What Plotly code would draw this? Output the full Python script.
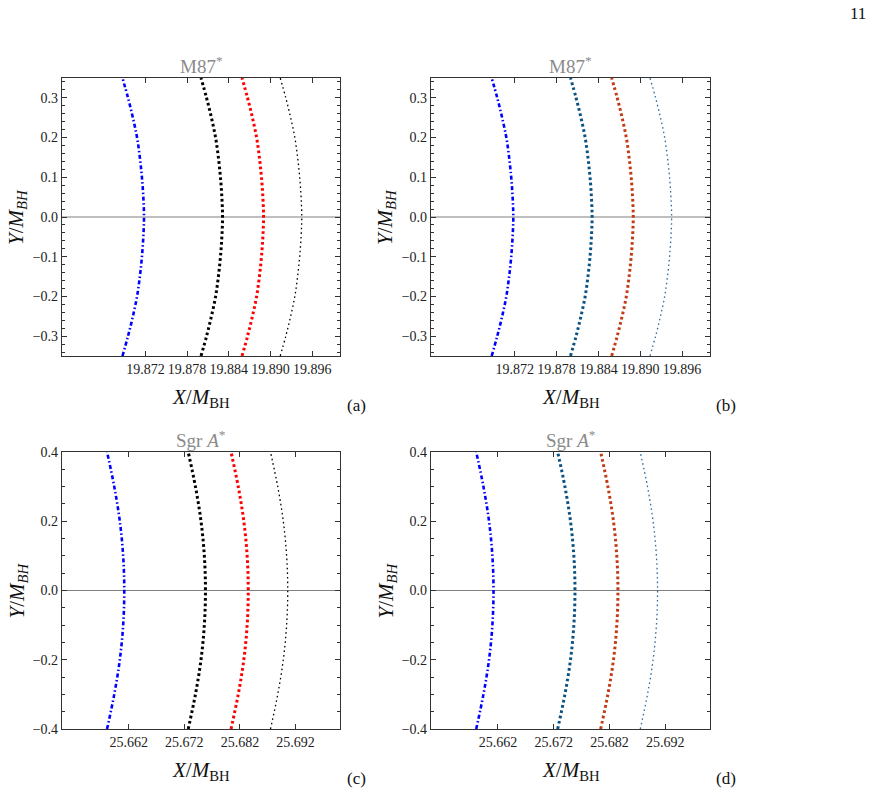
import plotly.graph_objects as go

# ---------------- data ----------------
Y_M87 = [-0.35, -0.3, -0.25, -0.2, -0.15, -0.1, -0.05, 0.0, 0.05, 0.1, 0.15, 0.2, 0.25, 0.3, 0.35]
M87_BLUE = [19.8687, 19.8695, 19.8702, 19.8708, 19.8712, 19.8715, 19.8717, 19.8718,
            19.8717, 19.8715, 19.8712, 19.8708, 19.8702, 19.8695, 19.8687]
M87_THICK = [19.8800, 19.8808, 19.8815, 19.8821, 19.8825, 19.8828, 19.8830, 19.8831,
             19.8830, 19.8828, 19.8825, 19.8821, 19.8815, 19.8808, 19.8800]
M87_RED = [19.8859, 19.8867, 19.8874, 19.8880, 19.8884, 19.8887, 19.8889, 19.8890,
           19.8889, 19.8887, 19.8884, 19.8880, 19.8874, 19.8867, 19.8859]
M87_THIN = [19.8914, 19.8922, 19.8929, 19.8935, 19.8939, 19.8942, 19.8944, 19.8945,
            19.8944, 19.8942, 19.8939, 19.8935, 19.8929, 19.8922, 19.8914]

Y_SGR = [-0.4, -0.3, -0.2, -0.1, 0.0, 0.1, 0.2, 0.3, 0.4]
SGR_BLUE = [25.6581, 25.6594, 25.6604, 25.6610, 25.6612, 25.6610, 25.6604, 25.6594, 25.6581]
SGR_THICK = [25.6727, 25.6740, 25.6750, 25.6756, 25.6758, 25.6756, 25.6750, 25.6740, 25.6727]
SGR_RED = [25.6804, 25.6817, 25.6827, 25.6833, 25.6835, 25.6833, 25.6827, 25.6817, 25.6804]
SGR_THIN = [25.6875, 25.6888, 25.6898, 25.6904, 25.6906, 25.6904, 25.6898, 25.6888, 25.6875]

M87_XTICKS = [19.872, 19.878, 19.884, 19.890, 19.896]
M87_XTICKTEXT = ["19.872", "19.878", "19.884", "19.890", "19.896"]
M87_YTICKS = [-0.3, -0.2, -0.1, 0.0, 0.1, 0.2, 0.3]
M87_YTICKTEXT = ["\u22120.3", "\u22120.2", "\u22120.1", "0.0", "0.1", "0.2", "0.3"]
SGR_XTICKS = [25.662, 25.672, 25.682, 25.692]
SGR_XTICKTEXT = ["25.662", "25.672", "25.682", "25.692"]
SGR_YTICKS = [-0.4, -0.2, 0.0, 0.2, 0.4]
SGR_YTICKTEXT = ["\u22120.4", "\u22120.2", "0.0", "0.2", "0.4"]

M87_XRANGE = [19.860, 19.900]
M87_YRANGE = [-0.35, 0.35]
SGR_XRANGE = [25.650, 25.700]
SGR_YRANGE = [-0.4, 0.4]

PANEL_LABELS = ["(a)", "(b)", "(c)", "(d)"]
TITLES = ["M87<sup>*</sup>", "M87<sup>*</sup>", "Sgr <i>A</i><sup>*</sup>", "Sgr <i>A</i><sup>*</sup>"]

# ---------------- styles ----------------
W, H = 880, 792
FONT = "Liberation Serif"

STYLE_LEFT = [
    dict(color="#0000ff", width=2.6, dash="4px,2.5px,1.5px,2.5px"),
    dict(color="#000000", width=3.0, dash="2.7px,2.7px"),
    dict(color="#ff0000", width=3.0, dash="2.7px,2.7px"),
    dict(color="#000000", width=1.3, dash="1.6px,3px"),
]
STYLE_RIGHT = [
    dict(color="#0000ff", width=2.6, dash="4px,2.5px,1.5px,2.5px"),
    dict(color="#0b5283", width=3.0, dash="2.7px,2.7px"),
    dict(color="#c23b15", width=3.0, dash="2.7px,2.7px"),
    dict(color="#2e6da4", width=1.3, dash="1.6px,3px"),
]

# pixel boxes of the four frames: (left, right, top, bottom)
BOXES = [(62, 340, 78, 356), (431, 710, 78, 356), (62, 340, 452, 729), (431, 710, 452, 729)]

fig = go.Figure()

panels = [
    (Y_M87, [M87_BLUE, M87_THICK, M87_RED, M87_THIN], STYLE_LEFT, M87_XRANGE, M87_YRANGE,
     M87_XTICKS, M87_XTICKTEXT, M87_YTICKS, M87_YTICKTEXT, 0.02),
    (Y_M87, [M87_BLUE, M87_THICK, M87_RED, M87_THIN], STYLE_RIGHT, M87_XRANGE, M87_YRANGE,
     M87_XTICKS, M87_XTICKTEXT, M87_YTICKS, M87_YTICKTEXT, 0.02),
    (Y_SGR, [SGR_BLUE, SGR_THICK, SGR_RED, SGR_THIN], STYLE_LEFT, SGR_XRANGE, SGR_YRANGE,
     SGR_XTICKS, SGR_XTICKTEXT, SGR_YTICKS, SGR_YTICKTEXT, 0.05),
    (Y_SGR, [SGR_BLUE, SGR_THICK, SGR_RED, SGR_THIN], STYLE_RIGHT, SGR_XRANGE, SGR_YRANGE,
     SGR_XTICKS, SGR_XTICKTEXT, SGR_YTICKS, SGR_YTICKTEXT, 0.05),
]

annotations = []
for i, (ys, curves, styles, xr, yr, xt, xtt, yt, ytt, yminor) in enumerate(panels):
    n = i + 1
    xa = "x" if n == 1 else f"x{n}"
    ya = "y" if n == 1 else f"y{n}"
    # zero line
    fig.add_trace(go.Scatter(x=xr, y=[0, 0], mode="lines", xaxis=xa, yaxis=ya,
                             line=dict(color="#808080", width=1.2), showlegend=False,
                             hoverinfo="skip"))
    for xs, st in zip(curves, styles):
        fig.add_trace(go.Scatter(x=xs, y=ys, mode="lines", xaxis=xa, yaxis=ya,
                                 line=dict(shape="spline", smoothing=1.0, **st),
                                 showlegend=False))
    l, r, t, b = BOXES[i]
    xkey = "xaxis" if n == 1 else f"xaxis{n}"
    ykey = "yaxis" if n == 1 else f"yaxis{n}"
    fig.update_layout(**{
        xkey: dict(domain=[l / W, r / W], range=xr, anchor=ya, tickvals=xt, ticktext=xtt,
                   ticks="inside", ticklen=5, tickcolor="#333", mirror="ticks",
                   showline=True, linecolor="#333", linewidth=1.3, showgrid=False,
                   zeroline=False, tickfont=dict(family=FONT, size=14, color="#222"),
                   tickangle=0, automargin=False, fixedrange=True),
        ykey: dict(domain=[1 - b / H, 1 - t / H], range=yr, anchor=xa, tickvals=yt, ticktext=ytt,
                   ticks="inside", ticklen=5, tickcolor="#333", mirror="ticks",
                   showline=True, linecolor="#333", linewidth=1.3, showgrid=False,
                   zeroline=False, tickfont=dict(family=FONT, size=14, color="#222"),
                   minor=dict(dtick=yminor, ticks="inside", ticklen=3, tickcolor="#333"),
                   tickangle=0, automargin=False, fixedrange=True),
    })
    cx = (l + r) / 2
    # title
    annotations.append(dict(text=TITLES[i], x=cx / W, y=1 - (t - 13) / H, xref="paper",
                            yref="paper", showarrow=False, xanchor="center", yanchor="middle",
                            font=dict(family=FONT, size=19, color="#8a8a8a")))
    # x axis title
    annotations.append(dict(text="<i>X</i>/<i>M</i><sub>BH</sub>", x=cx / W, y=1 - (b + 42) / H,
                            xref="paper", yref="paper", showarrow=False, xanchor="center",
                            yanchor="middle", font=dict(family=FONT, size=21, color="#111")))
    # y axis title
    annotations.append(dict(text="<i>Y</i>/<i>M<sub>BH</sub></i>", x=(l - 45) / W,
                            y=1 - ((t + b) / 2) / H, xref="paper", yref="paper",
                            showarrow=False, textangle=-90, xanchor="center", yanchor="middle",
                            font=dict(family=FONT, size=21, color="#111")))
    # panel label
    annotations.append(dict(text=PANEL_LABELS[i], x=(r + 16) / W, y=1 - (b + 49) / H,
                            xref="paper", yref="paper", showarrow=False, xanchor="center",
                            yanchor="middle", font=dict(family=FONT, size=17, color="#111")))

# page number
annotations.append(dict(text="11", x=858 / W, y=1 - 14 / H, xref="paper", yref="paper",
                        showarrow=False, xanchor="center", yanchor="middle",
                        font=dict(family=FONT, size=17, color="#111")))

fig.update_layout(width=W, height=H, margin=dict(l=0, r=0, t=0, b=0, autoexpand=False),
                  paper_bgcolor="white", plot_bgcolor="white", annotations=annotations,
                  showlegend=False)

fig.write_html("out.html")
